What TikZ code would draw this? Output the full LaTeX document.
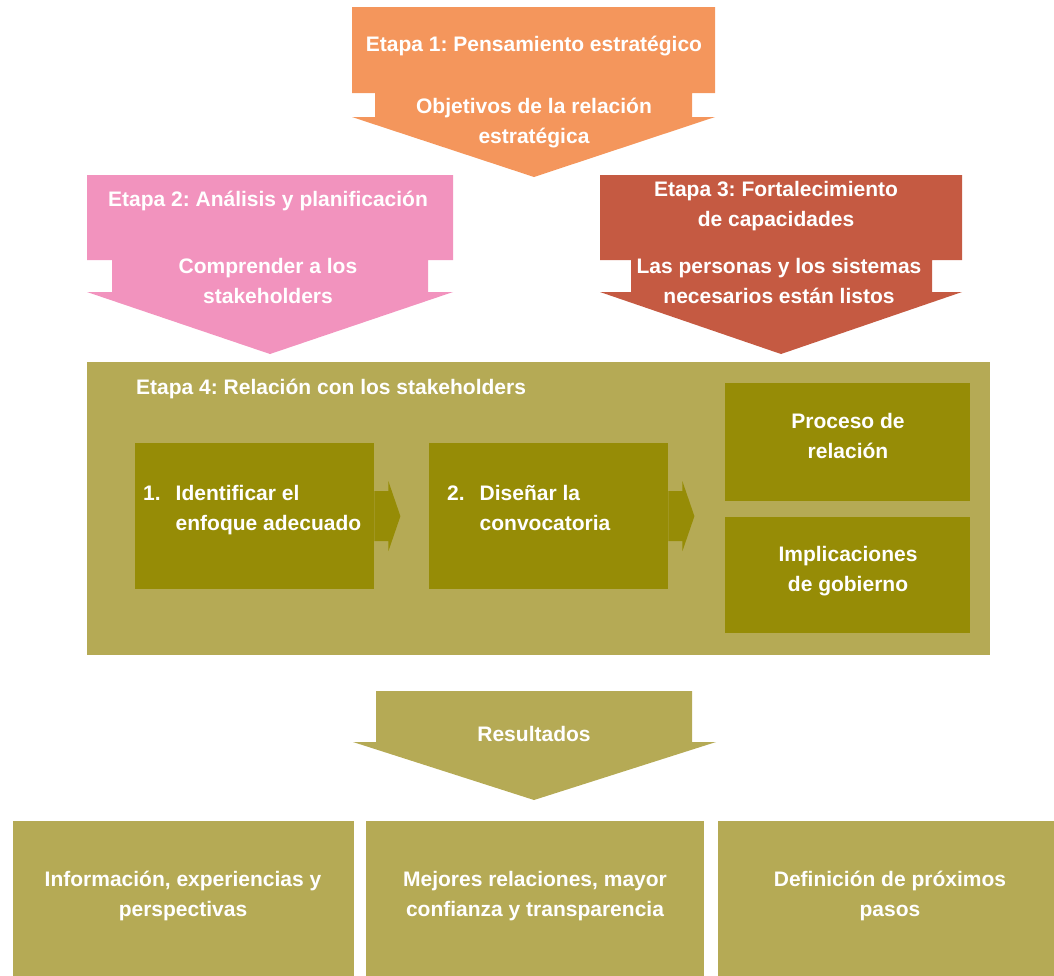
\documentclass[tikz,border=0pt]{standalone}
\usepackage{fontspec}
\setmainfont{Liberation Sans}
\usepackage{tikz}
\usepackage{xcolor}
\definecolor{naranja}{HTML}{F4965C}
\definecolor{rosa}{HTML}{F293BE}
\definecolor{rojo}{HTML}{C55A42}
\definecolor{olivo}{HTML}{B5AA55}
\definecolor{olivooscuro}{HTML}{968C06}
\frenchspacing

\begin{document}
\begin{tikzpicture}[x=1pt, y=-1pt,
	texto/.style={text=white, font=\bfseries\fontsize{21}{30}\selectfont, align=center, inner sep=0pt},
	caja/.style={fill=olivo, inner sep=0pt, anchor=north west},
	paso/.style={fill=olivooscuro, inner sep=0pt, anchor=north west}]
	\clip (0,0) rectangle (1054,975);
	% etapas 1 a 3
	\fill[naranja] (352,7) -- (715,7) -- (715,93) -- (692,93) -- (692,117) -- (715,117) -- (534,177) -- (352,117) -- (375,117) -- (375,93) -- (352,93) -- cycle;
	\fill[rosa] (87,175) -- (453,175) -- (453,260) -- (428,260) -- (428,292) -- (453,292) -- (270,354) -- (87,292) -- (112,292) -- (112,260) -- (87,260) -- cycle;
	\fill[rojo] (600,175) -- (962,175) -- (962,260) -- (932,260) -- (932,292) -- (962,292) -- (781,354) -- (600,292) -- (631,292) -- (631,260) -- (600,260) -- cycle;
	\node[texto] (etapa1) at (534,46) {Etapa 1: Pensamiento estratégico};
	\node[texto] (objetivos) at (534,123) {Objetivos de la relación\\estratégica};
	\node[texto] (etapa2) at (268,201) {Etapa 2: Análisis y planificación};
	\node[texto] (comprender) at (268,281) {Comprender a los\\stakeholders};
	\node[texto] (etapa3) at (776,206) {Etapa 3: Fortalecimiento\\de capacidades};
	\node[texto] (personas) at (779,281) {Las personas y los sistemas\\necesarios están listos};

	% etapa 4
	\node[caja, minimum width=903, minimum height=293] (etapa4) at (87,362) {};
	\node[texto, anchor=west] (etapa4titulo) at (136,389) {Etapa 4: Relación con los stakeholders};
	\node[paso, minimum width=239, minimum height=146] (paso1) at (135,443) {};
	\node[paso, minimum width=239, minimum height=146] (paso2) at (429,443) {};
	\node[paso, minimum width=245, minimum height=118] (proceso) at (725,383) {};
	\node[paso, minimum width=245, minimum height=116] (implicaciones) at (725,517) {};
	\foreach \p in {paso1,paso2}
	{
		\fill[olivooscuro] (\p.east) ++(0,-25) -- ++(14,0) -- ++(0,-10) -- ++(12,35) -- ++(-12,35) -- ++(0,-10) -- ++(-14,0) -- cycle;
	}
	\node[texto, anchor=west, align=left] (identificar) at (143,509) {\begin{tabular}{@{}l@{\hspace{15pt}}l@{}}1.&Identificar el\\&enfoque adecuado\end{tabular}};
	\node[texto, anchor=west, align=left] (disenar) at (447,509) {\begin{tabular}{@{}l@{\hspace{15pt}}l@{}}2.&Diseñar la\\&convocatoria\end{tabular}};
	\node[texto] (procesotexto) at (848,436) {Proceso de\\relación};
	\node[texto] (implicacionestexto) at (848,571) {Implicaciones\\de gobierno};

	% resultados
	\fill[olivo] (376,691) -- (692,691) -- (692,742) -- (716,742) -- (534,800) -- (353,742) -- (376,742) -- cycle;
	\node[texto] (resultados) at (534,734) {Resultados};
	\node[caja, minimum width=341, minimum height=170] (informacion) at (13,821) {};
	\node[caja, minimum width=338, minimum height=170] (mejores) at (366,821) {};
	\node[caja, minimum width=345, minimum height=170] (definicion) at (718,821) {};
	\node[texto] (informaciontexto) at (183,896) {Información, experiencias y\\perspectivas};
	\node[texto] (mejorestexto) at (535,896) {Mejores relaciones, mayor\\confianza y transparencia};
	\node[texto] (definiciontexto) at (890,896) {Definición de próximos\\pasos};
\end{tikzpicture}
\end{document}
